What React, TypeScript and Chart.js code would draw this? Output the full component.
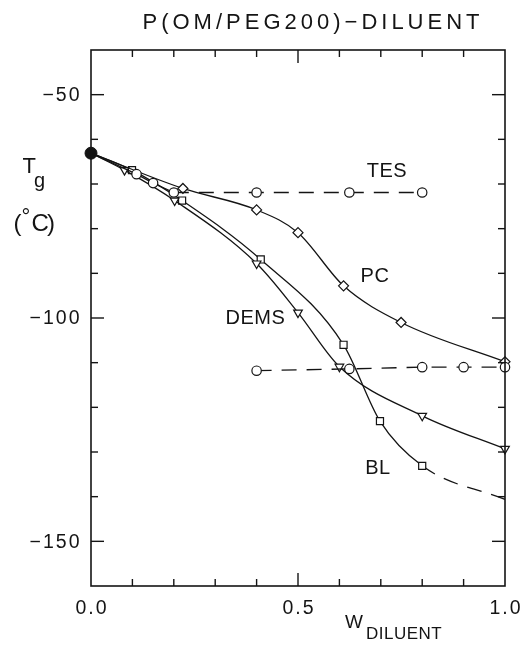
import React, { useEffect, useRef } from 'react';
import { Chart, registerables } from 'chart.js';

Chart.register(...registerables);

// ---- data ----
const ORIGIN_X = [0];
const ORIGIN_Y = [-63.1];

const TES_X = [0, 0.11, 0.15, 0.2, 0.4, 0.624, 0.8];
const TES_Y = [-63.1, -67.8, -69.8, -71.9, -71.9, -71.9, -71.9];

const TES2_X = [0.4, 0.624, 0.8, 0.9, 1.0];
const TES2_Y = [-111.8, -111.4, -111.0, -111.0, -111.0];

const PC_X = [0, 0.222, 0.4, 0.5, 0.61, 0.749, 1.0];
const PC_Y = [-63.1, -71.0, -75.8, -80.9, -92.8, -101.0, -109.8];

const DEMS_X = [0, 0.081, 0.202, 0.4, 0.5, 0.6, 0.8, 1.0];
const DEMS_Y = [-63.1, -66.9, -73.7, -87.8, -98.8, -110.9, -121.9, -129.3];

const BL_X = [0, 0.099, 0.22, 0.41, 0.61, 0.698, 0.8, 1.0];
const BL_Y = [-63.1, -66.9, -73.7, -86.9, -106.0, -123.1, -133.1, -140.6];

const X_LABEL_VALUES = [0, 0.5, 1.0];
const X_LABELS = ['0.0', '0.5', '1.0'];
const Y_LABEL_VALUES = [-50, -100, -150];
const Y_LABELS = ['\u221250', '\u2212100', '\u2212150'];

const X_MIN = 0, X_MAX = 1, X_MINOR = 0.1, X_MAJOR = 0.5;
const Y_MIN = -160, Y_MAX = -40, Y_MINOR = 10, Y_MAJOR = 50;

const SERIES_LABELS = ['TES', 'PC', 'DEMS', 'BL'];
const SERIES_LABEL_X = [0.715, 0.686, 0.397, 0.693];
const SERIES_LABEL_Y = [-67.1, -90.8, -100.2, -133.8];

const TITLE = 'P(OM/PEG200)\u2212DILUENT';

const INK = '#141414';
const FONT = '"Liberation Sans", Arial, Helvetica, sans-serif';
const DASH = [15, 10];

const zip = (xs: number[], ys: number[]) => xs.map((x, i) => ({ x, y: ys[i] }));

const decorPlugin = {
  id: 'paperDecor',
  afterDraw(chart: any) {
    const { ctx, chartArea: a, scales } = chart;
    const xs = scales.x;
    const ys = scales.y;
    ctx.save();
    ctx.strokeStyle = INK;
    ctx.fillStyle = INK;
    ctx.lineWidth = 1.6;
    ctx.strokeRect(a.left, a.top, a.right - a.left, a.bottom - a.top);

    const seg = (x1: number, y1: number, x2: number, y2: number) => {
      ctx.beginPath();
      ctx.moveTo(x1, y1);
      ctx.lineTo(x2, y2);
      ctx.stroke();
    };
    ctx.lineWidth = 1.4;
    const nx = Math.round((X_MAX - X_MIN) / X_MINOR);
    for (let i = 1; i < nx; i++) {
      const v = X_MIN + i * X_MINOR;
      const px = xs.getPixelForValue(v);
      const major = Math.abs(v / X_MAJOR - Math.round(v / X_MAJOR)) < 1e-6;
      const len = major ? 13 : 7;
      seg(px, a.bottom, px, a.bottom - len);
      seg(px, a.top, px, a.top + len);
    }
    const ny = Math.round((Y_MAX - Y_MIN) / Y_MINOR);
    for (let i = 1; i < ny; i++) {
      const v = Y_MIN + i * Y_MINOR;
      const py = ys.getPixelForValue(v);
      const major = v % Y_MAJOR === 0;
      const len = major ? 13 : 7;
      seg(a.left, py, a.left + len, py);
      seg(a.right, py, a.right - len, py);
    }

    // tick labels
    ctx.textBaseline = 'middle';
    ctx.font = `19.5px ${FONT}`;
    (ctx as any).letterSpacing = '2px';
    ctx.textAlign = 'right';
    Y_LABEL_VALUES.forEach((v, i) => {
      ctx.fillText(Y_LABELS[i], a.left - 9.5, ys.getPixelForValue(v) + 1);
    });
    ctx.textAlign = 'center';
    X_LABEL_VALUES.forEach((v, i) => {
      ctx.fillText(X_LABELS[i], xs.getPixelForValue(v) + 1, a.bottom + 23);
    });

    // title
    ctx.font = `22px ${FONT}`;
    (ctx as any).letterSpacing = '4px';
    ctx.fillText(TITLE, 313, 23);

    // series labels
    ctx.font = `20px ${FONT}`;
    (ctx as any).letterSpacing = '0.5px';
    SERIES_LABELS.forEach((t, i) => {
      ctx.fillText(t, xs.getPixelForValue(SERIES_LABEL_X[i]), ys.getPixelForValue(SERIES_LABEL_Y[i]));
    });

    // x title
    ctx.textAlign = 'left';
    ctx.textBaseline = 'alphabetic';
    (ctx as any).letterSpacing = '0px';
    ctx.font = `19px ${FONT}`;
    ctx.fillText('W', 345, 628);
    ctx.font = `17px ${FONT}`;
    (ctx as any).letterSpacing = '0.5px';
    ctx.fillText('DILUENT', 366, 639);

    // y title
    (ctx as any).letterSpacing = '0px';
    ctx.font = `22px ${FONT}`;
    ctx.fillText('T', 22.5, 173);
    ctx.font = `20px ${FONT}`;
    ctx.fillText('g', 34, 187);
    ctx.font = `24px ${FONT}`;
    ctx.fillText('(', 13.5, 231);
    ctx.fillText('C', 31.5, 231);
    ctx.fillText(')', 47, 231);
    ctx.font = `22px ${FONT}`;
    ctx.fillText('\u00B0', 21.5, 224);

    ctx.restore();
  },
};

export default function App() {
  const ref = useRef<HTMLCanvasElement | null>(null);

  useEffect(() => {
    document.body.style.margin = '0';
    const canvas = ref.current;
    if (!canvas) return;

    const hideFirst = (n: number, r: number) => Array.from({ length: n }, (_, i) => (i === 0 ? 0 : r));
    const common = {
      borderColor: INK,
      borderWidth: 1.3,
      pointBorderColor: INK,
      pointBackgroundColor: '#ffffff',
      pointBorderWidth: 1.2,
      showLine: true,
      fill: false,
      clip: false as any,
    };

    const blRadii = hideFirst(BL_X.length, 5);
    blRadii[blRadii.length - 1] = 0;

    const chart = new Chart(canvas, {
      type: 'line',
      data: {
        datasets: [
          {
            ...common,
            label: 'TES',
            data: zip(TES_X, TES_Y),
            pointStyle: 'circle',
            pointRadius: hideFirst(TES_X.length, 4.7),
            tension: 0,
            segment: { borderDash: (c: any) => (c.p0DataIndex >= 3 ? DASH : undefined) },
          },
          {
            ...common,
            label: 'TES (2)',
            data: zip(TES2_X, TES2_Y),
            pointStyle: 'circle',
            pointRadius: 4.7,
            tension: 0,
            borderDash: DASH,
          },
          {
            ...common,
            label: 'PC',
            data: zip(PC_X, PC_Y),
            pointStyle: 'rectRot',
            pointRadius: hideFirst(PC_X.length, 5),
            cubicInterpolationMode: 'monotone',
          },
          {
            ...common,
            label: 'DEMS',
            data: zip(DEMS_X, DEMS_Y),
            pointStyle: 'triangle',
            pointRotation: 180,
            pointRadius: hideFirst(DEMS_X.length, 5),
            cubicInterpolationMode: 'monotone',
          },
          {
            ...common,
            label: 'BL',
            data: zip(BL_X, BL_Y),
            pointStyle: 'rect',
            pointRadius: blRadii,
            cubicInterpolationMode: 'monotone',
            segment: { borderDash: (c: any) => (c.p0DataIndex >= BL_X.length - 2 ? DASH : undefined) },
          },
          {
            label: 'P(OM/PEG200)',
            data: zip(ORIGIN_X, ORIGIN_Y),
            showLine: false,
            pointStyle: 'circle',
            pointRadius: 6,
            pointBackgroundColor: INK,
            pointBorderColor: INK,
            clip: false as any,
          },
        ] as any,
      },
      options: {
        animation: false,
        responsive: false,
        devicePixelRatio: 1,
        layout: { padding: { top: 50, right: 17, left: 0, bottom: 0 } },
        plugins: {
          legend: { display: false },
          tooltip: { enabled: false },
          title: { display: false },
        },
        scales: {
          x: {
            type: 'linear',
            min: X_MIN,
            max: X_MAX,
            grid: { display: false },
            border: { display: false },
            ticks: { display: false },
            afterFit: (s: any) => { s.height = 59; },
          },
          y: {
            type: 'linear',
            min: Y_MIN,
            max: Y_MAX,
            grid: { display: false },
            border: { display: false },
            ticks: { display: false },
            afterFit: (s: any) => { s.width = 91; },
          },
        },
      } as any,
      plugins: [decorPlugin],
    });

    return () => chart.destroy();
  }, []);

  return (
    <div style={{ width: 522, height: 645, background: '#fff' }}>
      <canvas ref={ref} width={522} height={645} style={{ display: 'block' }} />
    </div>
  );
}
